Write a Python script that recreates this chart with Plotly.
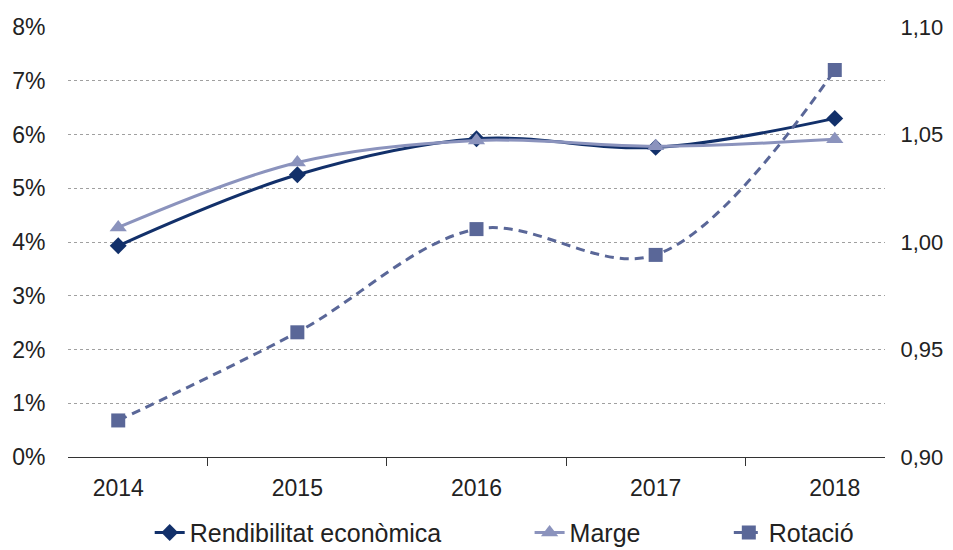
import plotly.graph_objects as go

years = ["2014", "2015", "2016", "2017", "2018"]
rendibilitat = [3.93, 5.25, 5.92, 5.76, 6.30]
marge = [4.27, 5.48, 5.89, 5.78, 5.91]
rotacio = [0.917, 0.958, 1.006, 0.994, 1.080]

left_ticks = [0, 1, 2, 3, 4, 5, 6, 7, 8]
left_labels = [f"{v}%" for v in left_ticks]
right_ticks = [0.90, 0.95, 1.00, 1.05, 1.10]
right_labels = [f"{v:.2f}".replace(".", ",") for v in right_ticks]

font = "Liberation Sans, Arial, sans-serif"
pad = "\u00a0" * 12

fig = go.Figure()
fig.add_trace(go.Scatter(
    x=years, y=rendibilitat, name="Rendibilitat econòmica" + pad,
    mode="lines+markers", line=dict(color="#12306A", width=3, shape="spline"),
    marker=dict(symbol="diamond", size=13, color="#12306A"), yaxis="y"))
fig.add_trace(go.Scatter(
    x=years, y=marge, name="Marge" + pad,
    mode="lines+markers", line=dict(color="#8B93BD", width=3, shape="spline"),
    marker=dict(symbol="triangle-up", size=15, color="#8B93BD"), yaxis="y"))
fig.add_trace(go.Scatter(
    x=years, y=rotacio, name="Rotació",
    mode="lines+markers", line=dict(color="#5A6798", width=3, shape="spline", dash="9px,6px"),
    marker=dict(symbol="square", size=14, color="#5A6798"), yaxis="y2"))

# page has an 8px body margin, so the figure is shifted by 8px
fig.update_layout(
    width=945, height=542,
    margin=dict(l=60, r=68, t=19, b=93, autoexpand=False),
    paper_bgcolor="white", plot_bgcolor="white",
    font=dict(family=font, color="#222222"),
    showlegend=True,
    legend=dict(orientation="h", x=0.100, xanchor="left", y=-0.176, yanchor="middle",
                font=dict(size=25, color="#222222"), traceorder="normal"),
    xaxis=dict(type="category", showgrid=False, showline=True, linecolor="#333333", linewidth=1,
               ticks="outside", ticklen=8, tickcolor="#333333", tickson="boundaries",
               tickfont=dict(size=23), zeroline=False, automargin=False,
               ticklabelstandoff=10),
    yaxis=dict(range=[0, 8], tickmode="array", tickvals=left_ticks, ticktext=left_labels,
               showgrid=True, gridcolor="#A0A0A0", griddash="dot", gridwidth=1, zeroline=False,
               showline=False, tickfont=dict(size=23), ticks="outside", ticklen=17,
               tickcolor="rgba(0,0,0,0)", automargin=False),
    yaxis2=dict(range=[0.90, 1.10], tickmode="array", tickvals=right_ticks, ticktext=right_labels,
                overlaying="y", side="right", showgrid=False, zeroline=False, showline=False,
                tickfont=dict(size=22), ticks="outside", ticklen=10,
                tickcolor="rgba(0,0,0,0)", automargin=False),
)

fig.write_html("out.html")
